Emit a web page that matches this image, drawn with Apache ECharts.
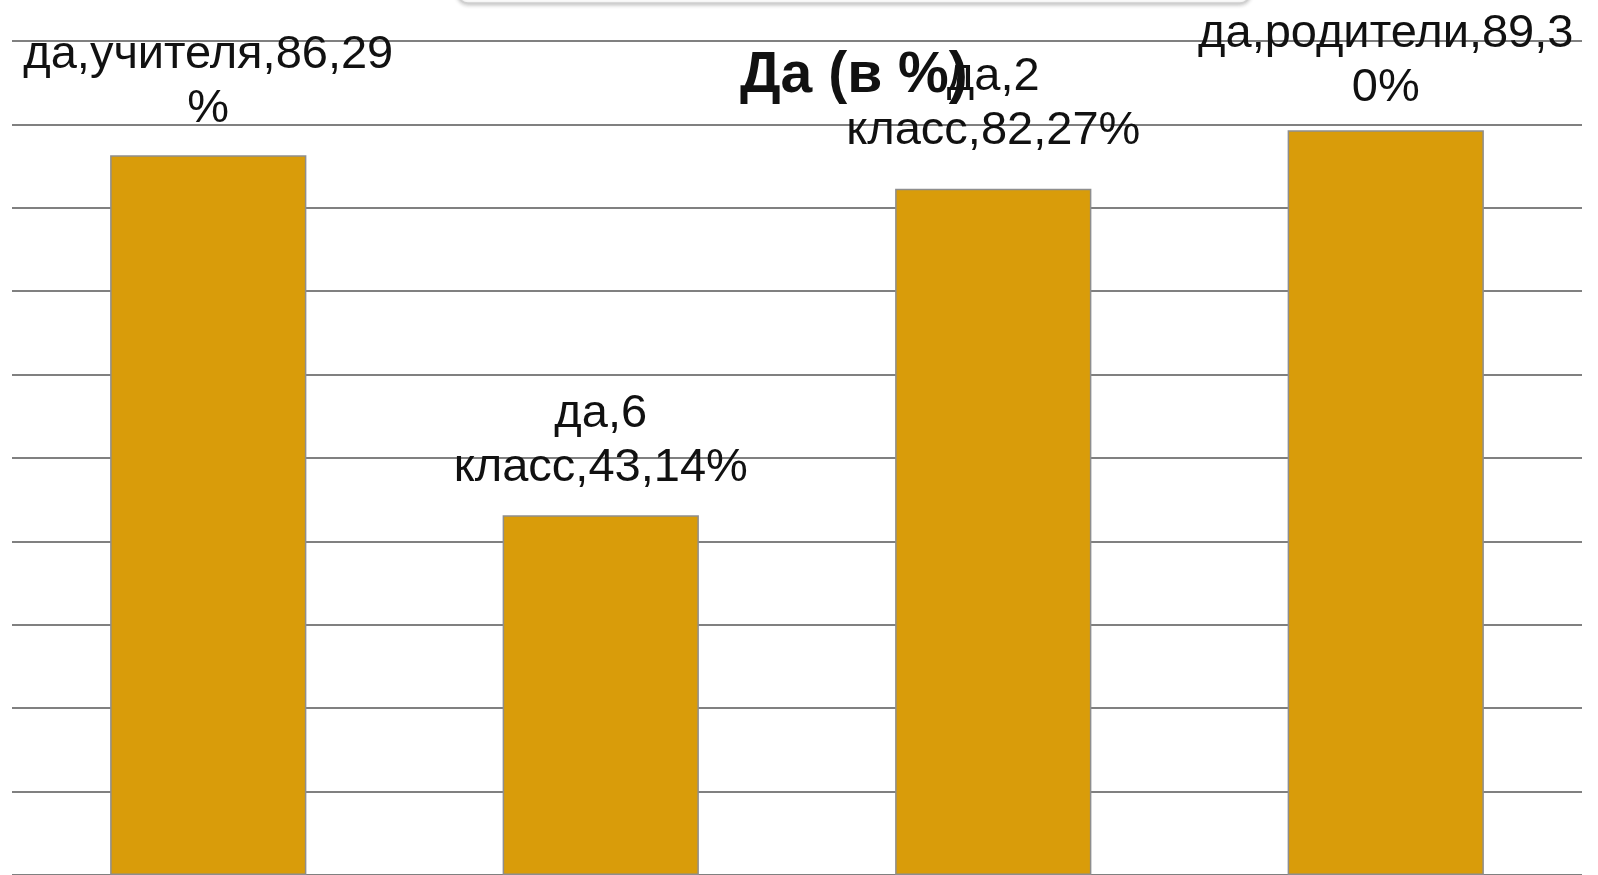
<!DOCTYPE html>
<html>
<head>
<meta charset="utf-8">
<script src="https://cdn.jsdelivr.net/npm/echarts@6/dist/echarts.min.js"></script>
<style>
html,body{margin:0;padding:0;background:#fff;}
#chart{width:1598px;height:875px;}
</style>
</head>
<body>
<div id="chart"></div>
<script>
const titleText = 'Да (в %)';
const categories = ['да,учителя', 'да,6 класс', 'да,2 класс', 'да,родители'];
const values = [86.29, 43.14, 82.27, 89.30];
const yTicks = [0, 10, 20, 30, 40, 50, 60, 70, 80, 90, 100];

// label gap above each bar (style only, in px)
const labelGaps = [19, 20, 31, 15];

// simple word wrap like the office chart: at most 16 characters per line, prefer breaking at spaces
function wrapLabel(text, maxChars) {
  const lines = [];
  let rest = text;
  while (rest.length > maxChars) {
    const cut = rest.lastIndexOf(' ', maxChars);
    if (cut > 0) {
      lines.push(rest.slice(0, cut));
      rest = rest.slice(cut + 1);
    } else {
      lines.push(rest.slice(0, maxChars));
      rest = rest.slice(maxChars);
    }
  }
  lines.push(rest);
  return lines.join('\n');
}

const chart = echarts.init(document.getElementById('chart'));
chart.setOption({
  animation: false,
  backgroundColor: '#ffffff',
  graphic: [{
    type: 'rect',
    z: 0,
    shape: { x: 458, y: -40, width: 792, height: 43, r: 10 },
    style: { fill: '#ffffff', stroke: '#d0d0d0', lineWidth: 1.5, shadowBlur: 4, shadowColor: 'rgba(0,0,0,0.25)', shadowOffsetY: 1 }
  }],
  title: {
    text: titleText,
    left: 735,
    top: 43,
    textStyle: { fontFamily: 'Liberation Sans', fontSize: 57, fontWeight: 'bold', color: '#111' }
  },
  grid: { left: 12, right: 16, top: 41, height: 836, containLabel: false },
  xAxis: {
    type: 'category',
    data: categories,
    axisLine: { show: false },
    axisTick: { show: false },
    axisLabel: { show: false }
  },
  yAxis: {
    type: 'value',
    min: yTicks[0],
    max: yTicks[yTicks.length - 1],
    interval: yTicks[1] - yTicks[0],
    axisLine: { show: false },
    axisTick: { show: false },
    axisLabel: { show: false },
    splitLine: { lineStyle: { color: '#808080', width: 2 } }
  },
  series: [{
    type: 'bar',
    data: values.map((v, i) => ({ value: v, label: { distance: labelGaps[i] } })),
    barWidth: '50%',
    itemStyle: { color: '#D99C0A', borderColor: '#8e8e8e', borderWidth: 1.5 },
    label: {
      show: true,
      position: 'top',
      distance: 20,
      fontFamily: 'Liberation Sans',
      fontSize: 47,
      lineHeight: 54,
      color: '#111',
      align: 'center',
      formatter: p => wrapLabel(p.name + ',' + p.value.toFixed(2).replace('.', ',') + '%', 16)
    }
  }]
});
</script>
</body>
</html>
